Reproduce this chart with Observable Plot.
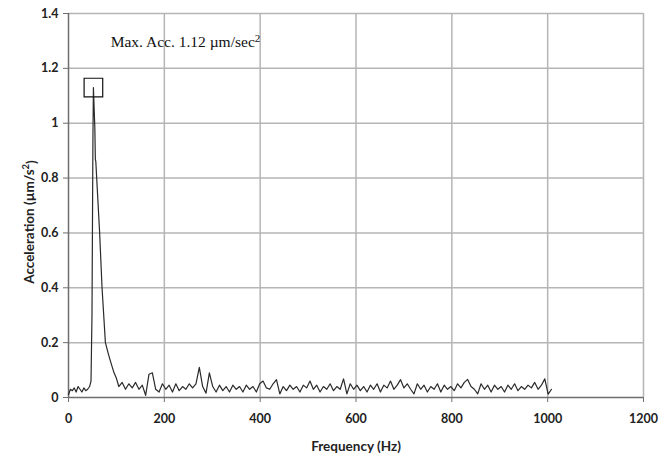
<!DOCTYPE html>
<html>
<head>
<meta charset="utf-8">
<script src="https://cdn.jsdelivr.net/npm/d3@7"></script>
<script src="https://cdn.jsdelivr.net/npm/@observablehq/plot@0.6"></script>
<style>
  html, body { margin: 0; padding: 0; background: #fff; }
  #chart { width: 672px; height: 459px; }
</style>
</head>
<body>
<div id="chart"></div>
<script>
const freqLow = [0, 4, 8, 12, 16, 20, 24, 28, 32, 36, 40, 44, 47, 49, 51, 52, 55, 56, 57, 65, 70, 77, 83, 88, 95, 100];
const accLow = [0.01, 0.03, 0.025, 0.035, 0.02, 0.04, 0.03, 0.02, 0.035, 0.025, 0.03, 0.04, 0.06, 0.3, 0.95, 1.13, 0.98, 0.87, 0.86, 0.6, 0.4, 0.2, 0.16, 0.13, 0.09, 0.07];

const freqNoise = [105,112,119,126,133,140,147,154,161,168,175,182,189,196,203,210,217,224,231,238,245,252,259,266,273,280,287,294,301,308,315,322,329,336,343,350,357,364,371,378,385,392,399,406,413,420,427,434,441,448,455,462,469,476,483,490,497,504,511,518,525,532,539,546,553,560,567,574,581,588,595,602,609,616,623,630,637,644,651,658,665,672,679,686,693,700,707,714,721,728,735,742,749,756,763,770,777,784,791,798,805,812,819,826,833,840,847,854,861,868,875,882,889,896,903,910,917,924,931,938,945,952,959,966,973,980,987,994,1001,1008];
const accNoise = [0.04,0.055,0.03,0.05,0.035,0.055,0.03,0.045,0.008,0.085,0.09,0.03,0.02,0.05,0.03,0.045,0.02,0.05,0.025,0.04,0.03,0.05,0.035,0.05,0.11,0.04,0.016,0.09,0.04,0.02,0.045,0.025,0.04,0.02,0.045,0.03,0.04,0.02,0.045,0.03,0.04,0.02,0.05,0.06,0.035,0.03,0.05,0.065,0.013,0.04,0.025,0.045,0.03,0.04,0.02,0.045,0.035,0.06,0.03,0.045,0.02,0.04,0.03,0.05,0.025,0.04,0.03,0.068,0.013,0.05,0.03,0.045,0.025,0.04,0.02,0.045,0.03,0.05,0.02,0.045,0.035,0.06,0.03,0.045,0.065,0.035,0.05,0.03,0.013,0.05,0.03,0.045,0.02,0.04,0.03,0.05,0.02,0.045,0.03,0.04,0.025,0.05,0.035,0.055,0.066,0.04,0.03,0.013,0.05,0.03,0.045,0.02,0.045,0.03,0.04,0.02,0.045,0.03,0.05,0.025,0.04,0.03,0.045,0.035,0.055,0.03,0.045,0.068,0.012,0.03];

const xTicks = [0, 200, 400, 600, 800, 1000, 1200];
const yTicks = [0, 0.2, 0.4, 0.6, 0.8, 1, 1.2, 1.4];
const peak = {f: 52, a: 1.13};
const annotation = ["Max. Acc. 1.12 µm/sec", "2"];
const xLabel = "Frequency (Hz)";
const yLabel = ["Acceleration (µm/s", "2", ")"];

const data = freqLow.map((f, i) => ({f, a: accLow[i]}))
  .concat(freqNoise.map((f, i) => ({f, a: accNoise[i]})));

const gridColor = "#b5b5b5";
const axisColor = "#6e6e6e";

const chart = Plot.plot({
  width: 672,
  height: 459,
  marginLeft: 68,
  marginRight: 29,
  marginTop: 13,
  marginBottom: 62,
  style: {fontFamily: "Lato, 'Liberation Sans', sans-serif", background: "#fff"},
  x: {domain: [0, 1200]},
  y: {domain: [0, 1.4]},
  marks: [
    Plot.ruleX(xTicks.filter(d => d > 0), {stroke: gridColor, strokeWidth: 1.5}),
    Plot.ruleY(yTicks.filter(d => d > 0), {stroke: gridColor, strokeWidth: 1.5}),
    Plot.ruleX([0], {stroke: axisColor, strokeWidth: 1.5}),
    Plot.ruleY([0], {stroke: axisColor, strokeWidth: 1.5}),
    Plot.axisX({ticks: xTicks, tickSize: 5, tickPadding: 12, stroke: axisColor, fontSize: 12.5, fontWeight: "bold", fill: "#222",
      label: xLabel, labelAnchor: "center", labelArrow: "none", labelOffset: 53, tickFormat: d => String(d)}),
    Plot.axisY({ticks: yTicks, tickSize: 5, tickPadding: 5, stroke: axisColor, fontSize: 12.5, fontWeight: "bold", fill: "#222",
      label: null, tickFormat: d => String(d)}),
    Plot.line(data, {x: "f", y: "a", stroke: "#2a2a2a", strokeWidth: 1.2}),
    Plot.dot([peak], {x: "f", y: "a", symbol: "square", r: 10.5, stroke: "#111", strokeWidth: 1.2, fill: "none"}),
    Plot.text([annotation], {x: 88, y: 1.295, text: d => d.join(""), textAnchor: "start", fontFamily: "'Liberation Serif', 'Times New Roman', serif", fontSize: 15.5, fill: "#111"})
  ]
});

const svg = d3.select(chart);
svg.selectAll("text").each(function() {
  const t = d3.select(this);
  const content = this.textContent;
  if (content === xLabel) {
    t.attr("font-weight", "bold").attr("font-size", 13.5).attr("fill", "#222");
  } else if (content === annotation.join("")) {
    t.text(null);
    t.append("tspan").text(annotation[0]);
    t.append("tspan").attr("dy", "-0.45em").attr("font-size", 11).text(annotation[1]);
  }
});

// y-axis title with superscript, placed like the reference
const yt = svg.append("text")
  .attr("transform", "translate(29,222) rotate(-90)")
  .attr("text-anchor", "middle")
  .attr("dominant-baseline", "central")
  .attr("font-family", "Lato, 'Liberation Sans', sans-serif")
  .attr("font-weight", "bold")
  .attr("font-size", 13.5)
  .attr("fill", "#222");
yt.append("tspan").text(yLabel[0]);
yt.append("tspan").attr("dy", "-0.4em").attr("font-size", 9.5).text(yLabel[1]);
yt.append("tspan").attr("dy", "0.4em").text(yLabel[2]);

document.getElementById("chart").appendChild(chart);
</script>
</body>
</html>
